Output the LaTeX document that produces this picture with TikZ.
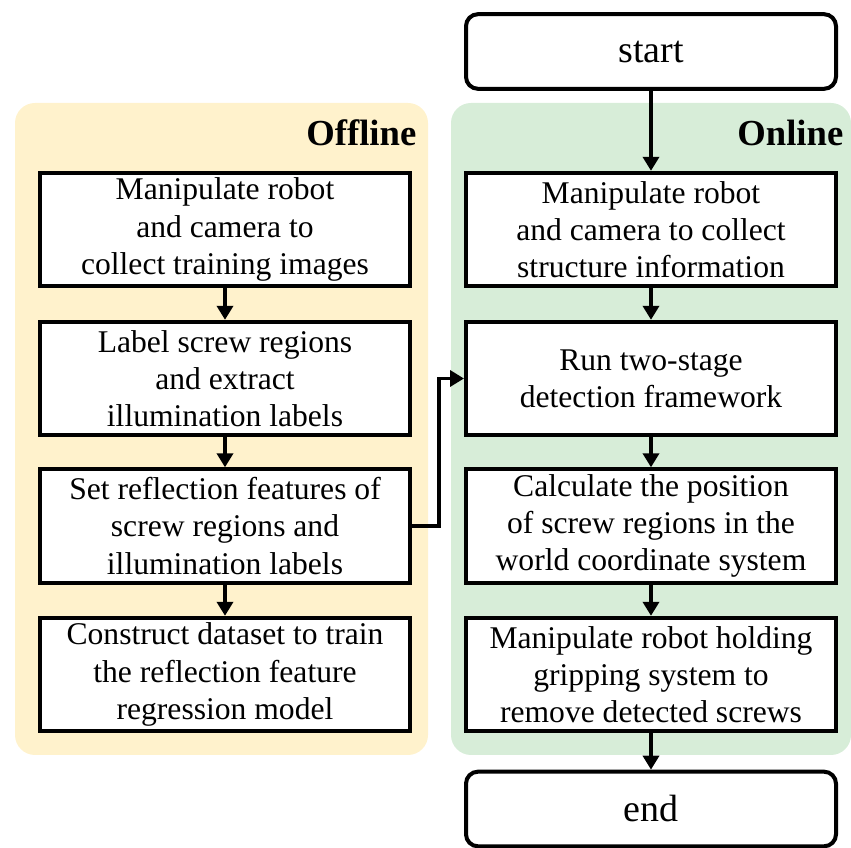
\documentclass[tikz,border=0pt]{standalone}
\usepackage{fontspec}
\setmainfont{Liberation Serif}
\usetikzlibrary{arrows.meta}
\definecolor{offlinebg}{HTML}{FFF2CC}
\definecolor{onlinebg}{HTML}{D7EDD8}
\begin{document}
\begin{tikzpicture}[x=0.75pt,y=-0.75pt,
  stepbox/.style={draw=black,line width=3pt,fill=white,align=center,
    minimum width=277.5pt,minimum height=85pt,inner sep=0pt,
    font=\fontsize{23.7}{27.8}\selectfont},
  termbox/.style={stepbox,rounded corners=9pt,minimum height=56pt,
    font=\fontsize{28.5}{32}\selectfont},
  paneltitle/.style={anchor=east,font=\bfseries\fontsize{27.5}{30}\selectfont},
  arr/.style={line width=2.6pt,-{Triangle[length=10.5pt,width=12pt]}}]
\useasboundingbox (0,0) rectangle (851,848);

% background panels
\fill[offlinebg,rounded corners=15pt] (15,103) rectangle (428,755);
\fill[onlinebg,rounded corners=15pt] (451,103) rectangle (851,755);
\node[paneltitle] at (421,133) {Offline};
\node[paneltitle] at (848,133) {Online};

% offline steps
\node[stepbox] (o1) at (225,229.5) {Manipulate robot\\and camera to\\collect training images};
\node[stepbox] (o2) at (225,378.5) {Label screw regions\\and extract\\illumination labels};
\node[stepbox] (o3) at (225,526) {Set reflection features of\\screw regions and\\illumination labels};
\node[stepbox] (o4) at (225,674.5) {Construct dataset to train\\the reflection feature\\regression model};

% online steps
\node[termbox] (start) at (651,51.5) {start};
\node[stepbox] (n1) at (651,229.5) {Manipulate robot\\and camera to collect\\structure information};
\node[stepbox] (n2) at (651,378.5) {Run two-stage\\detection framework};
\node[stepbox] (n3) at (651,526) {Calculate the position\\of screw regions in the\\world coordinate system};
\node[stepbox] (n4) at (651,674.5) {Manipulate robot holding\\gripping system to\\remove detected screws};
\node[termbox] (end) at (651,809) {end};

% connectors
\draw[arr] (o1) -- (o2);
\draw[arr] (o2) -- (o3);
\draw[arr] (o3) -- (o4);
\draw[arr] (start) -- (n1);
\draw[arr] (n1) -- (n2);
\draw[arr] (n2) -- (n3);
\draw[arr] (n3) -- (n4);
\draw[arr] (n4) -- (end);
\draw[arr] (o3.east) -- ++(27,0) |- (n2.west);
\end{tikzpicture}
\end{document}
